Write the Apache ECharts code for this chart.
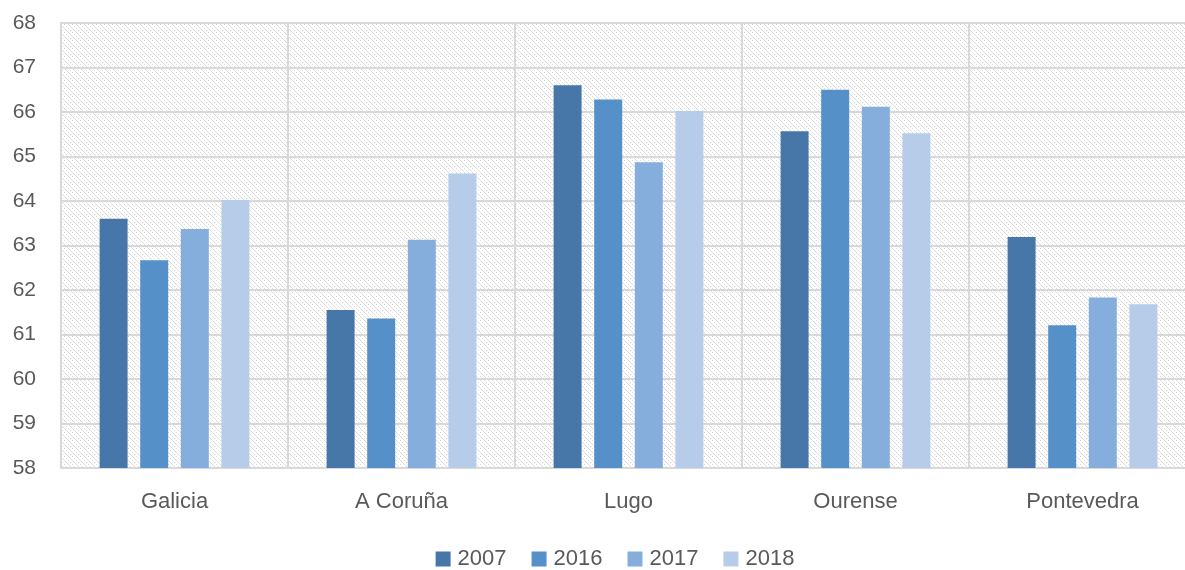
<!DOCTYPE html>
<html><head><meta charset="utf-8">
<script src="https://cdn.jsdelivr.net/npm/echarts@6/dist/echarts.min.js"></script>
<style>html,body{margin:0;padding:0;background:#fff;overflow:hidden;width:1185px;height:570px}#c{width:1230px;height:570px}</style>
</head><body><div id="c"></div>
<script>
const categories = ['Galicia', 'A Coruña', 'Lugo', 'Ourense', 'Pontevedra'];
const seriesNames = ['2007', '2016', '2017', '2018'];
const v2007 = [63.60, 61.55, 66.60, 65.57, 63.19];
const v2016 = [62.67, 61.36, 66.28, 66.50, 61.21];
const v2017 = [63.37, 63.13, 64.87, 66.12, 61.83];
const v2018 = [64.02, 64.62, 66.02, 65.52, 61.68];
const colors = ['#4677A8', '#5590C9', '#85AEDC', '#B7CCE8'];

const tile = document.createElement('canvas');
tile.width = 8; tile.height = 8;
const ctx = tile.getContext('2d');
ctx.fillStyle = '#ffffff'; ctx.fillRect(0, 0, 8, 8);
ctx.fillStyle = '#dcdcdc';
for (let i = 0; i < 8; i++) {
  if (i % 2 === 0) ctx.fillRect(i, i, 1, 1);
  ctx.fillRect(i, (i + 4) % 8, 1, 1);
}

const chart = echarts.init(document.getElementById('c'));
const data = [v2007, v2016, v2017, v2018];
chart.setOption({
  animation: false,
  textStyle: { fontFamily: 'Liberation Sans', color: '#595959' },
  grid: {
    left: 61, width: 1135, top: 23, bottom: 102, show: true,
    backgroundColor: { image: tile, repeat: 'repeat' },
    borderColor: '#d9d9d9', borderWidth: 2
  },
  legend: {
    top: 543, left: 'center', itemWidth: 15, itemHeight: 15, itemGap: 25,
    icon: 'rect',
    textStyle: { fontSize: 22, color: '#595959', fontFamily: 'Liberation Sans', padding: [0, 0, 0, 2] },
    data: seriesNames
  },
  xAxis: {
    type: 'category', data: categories,
    axisLine: { lineStyle: { color: '#d9d9d9', width: 2 } },
    axisTick: { show: false },
    splitLine: { show: true, lineStyle: { color: '#d9d9d9', width: 2 } },
    axisLabel: { fontSize: 22, color: '#595959', margin: 23 }
  },
  yAxis: {
    type: 'value', min: 58, max: 68, interval: 1,
    axisLine: { show: false }, axisTick: { show: false },
    splitLine: { lineStyle: { color: '#d9d9d9', width: 2 } },
    axisLabel: { fontSize: 21, color: '#595959', margin: 25 }
  },
  series: seriesNames.map((n, i) => ({
    name: n, type: 'bar', data: data[i], barWidth: 28, barGap: '45%',
    itemStyle: { color: colors[i] }
  }))
});
</script></body></html>
